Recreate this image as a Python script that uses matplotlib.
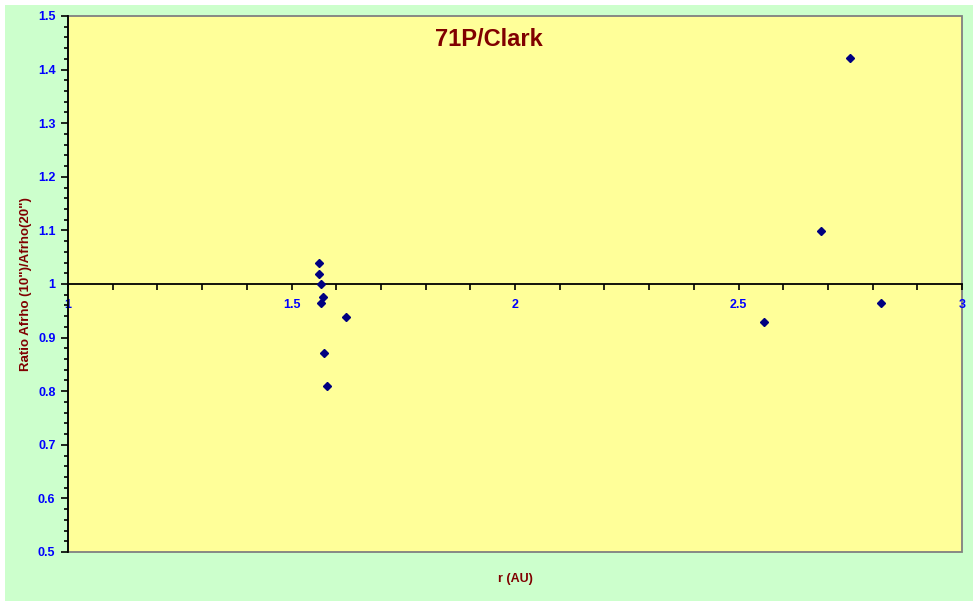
import numpy as np
import matplotlib
matplotlib.use("Agg")
import matplotlib.pyplot as plt
from matplotlib.patches import Rectangle
from matplotlib.ticker import MultipleLocator, FormatStrFormatter

# Datos
r_au = [1.562, 1.562, 1.567, 1.570, 1.566, 1.621, 1.572, 1.580,
        2.750, 2.685, 2.819, 2.556]
ratio = [1.040, 1.019, 1.000, 0.975, 0.965, 0.939, 0.871, 0.810,
         1.421, 1.098, 0.964, 0.929]

plt.rcParams['font.family'] = ['Liberation Sans', 'DejaVu Sans']
plt.rcParams['font.weight'] = 'bold'

W, H = 978, 601
fig = plt.figure(figsize=(W / 100, H / 100), dpi=100)
fig.patch.set_facecolor('white')

# Fondo verde del area del grafico
fig.patches.append(Rectangle((5 / W, 0), (973 - 5) / W, (601 - 5) / H,
                             transform=fig.transFigure, facecolor='#CCFFCC',
                             edgecolor='none', zorder=-10))

ax = fig.add_axes([68 / W, (H - 552) / H, (962 - 68) / W, (552 - 16) / H])
ax.set_facecolor('#FFFF99')

ax.plot(r_au, ratio, linestyle='none', marker='D', markersize=4.3,
        color='#000080', zorder=5, clip_on=False)

ax.set_xlim(1, 3)
ax.set_ylim(0.5, 1.5)

# Borde gris del area de trazado
ax.add_patch(Rectangle((0, 0), 1, 1, transform=ax.transAxes, fill=False,
                       edgecolor='#808080', linewidth=1.3, zorder=1, clip_on=False))

for s in ['top', 'right']:
    ax.spines[s].set_visible(False)
ax.spines['left'].set_color('black')
ax.spines['left'].set_linewidth(1.3)
ax.spines['bottom'].set_position(('data', 1.0))
ax.spines['bottom'].set_color('black')
ax.spines['bottom'].set_linewidth(1.3)

ax.xaxis.set_major_locator(MultipleLocator(0.5))
ax.xaxis.set_minor_locator(MultipleLocator(0.1))
ax.xaxis.set_major_formatter(FormatStrFormatter('%g'))
ax.yaxis.set_major_locator(MultipleLocator(0.1))
ax.yaxis.set_minor_locator(MultipleLocator(0.02))
ax.yaxis.set_major_formatter(FormatStrFormatter('%g'))

ax.tick_params(axis='x', which='both', direction='out', length=4, width=1.2,
               color='black', labelcolor='#0000FF', labelsize=9, pad=7)
ax.tick_params(axis='y', which='major', direction='out', length=5, width=1.2,
               color='black', labelcolor='#0000FF', labelsize=9, pad=4)
ax.tick_params(axis='y', which='minor', direction='out', length=3, width=1.2,
               color='black')

ax.set_xlabel('r (AU)', color='#800000', fontsize=9, fontweight='bold')
ax.xaxis.set_label_coords(0.5, -0.04)
ax.set_ylabel('Ratio Afrho (10")/Afrho(20")', color='#800000', fontsize=9.5,
              fontweight='bold')
ax.yaxis.set_label_coords(-0.04, 0.5)

fig.text(489 / W, 1 - 40 / H, '71P/Clark', color='#800000', fontsize=17,
         fontweight='bold', ha='center', va='center')

fig.savefig('out.png', dpi=100)
